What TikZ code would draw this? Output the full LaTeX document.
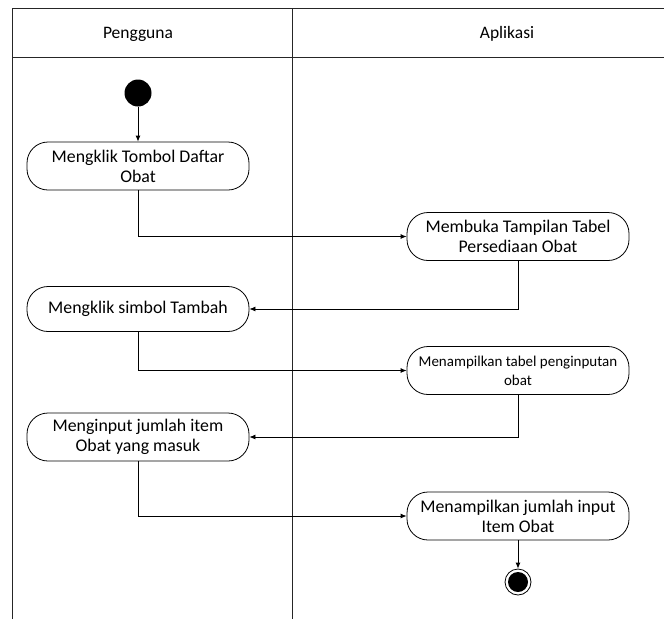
\documentclass[tikz,border=0pt]{standalone}
\usepackage{fontspec}
\setmainfont{Carlito}
\usetikzlibrary{arrows.meta}
\begin{document}
\begin{tikzpicture}[x=1pt,y=-1pt,
  lane/.style={draw=black!85,line width=0.8pt},
  act/.style={draw,line width=0.8pt,rounded corners=21pt,minimum width=222pt,minimum height=48pt,align=center,font=\fontsize{17.8}{20}\selectfont,inner sep=1pt},
  actsmall/.style={act,font=\fontsize{15}{19}\selectfont},
  flow/.style={line width=0.8pt,-{Latex[length=6pt,width=5pt]}},
  hdr/.style={font=\fontsize{17.5}{19}\selectfont}]
\useasboundingbox (0,0) rectangle (664,619);
% swimlanes
\draw[lane] (12,619) -- (12,8) -- (664,8);
\draw[lane] (12,57) -- (664,57);
\draw[lane] (292,8) -- (292,619);
\node[hdr] (h1) at (138,34) {Pengguna};
\node[hdr] (h2) at (507,34) {Aplikasi};
% nodes
\node[circle,fill=black,minimum size=27pt,inner sep=0pt] (start) at (138,93) {};
\node[act] (b1) at (138,166) {Mengklik Tombol Daftar\\Obat};
\node[act] (b2) at (518,236.5) {Membuka Tampilan Tabel\\Persediaan Obat};
\node[act,minimum height=45pt] (b3) at (138,309) {Mengklik simbol Tambah};
\node[actsmall] (b4) at (518,370.5) {Menampilkan tabel penginputan\\obat};
\node[act] (b5) at (138,437) {Menginput jumlah item\\Obat yang masuk};
\node[act] (b6) at (518,516) {Menampilkan jumlah input\\Item Obat};
\node[circle,draw,line width=0.8pt,fill=white,minimum size=26pt,inner sep=0pt] (end) at (518,582) {};
\node[circle,fill=black,minimum size=20pt,inner sep=0pt] (endin) at (end.center) {};
% connectors
\draw[flow] (start) -- (b1);
\draw[flow] (b1.south) |- (b2.west);
\draw[flow] (b2.south) |- (b3.east);
\draw[flow] (b3.south) |- (b4.west);
\draw[flow] (b4.south) |- (b5.east);
\draw[flow] (b5.south) |- (b6.west);
\draw[flow] (b6) -- (end);
\end{tikzpicture}
\end{document}
